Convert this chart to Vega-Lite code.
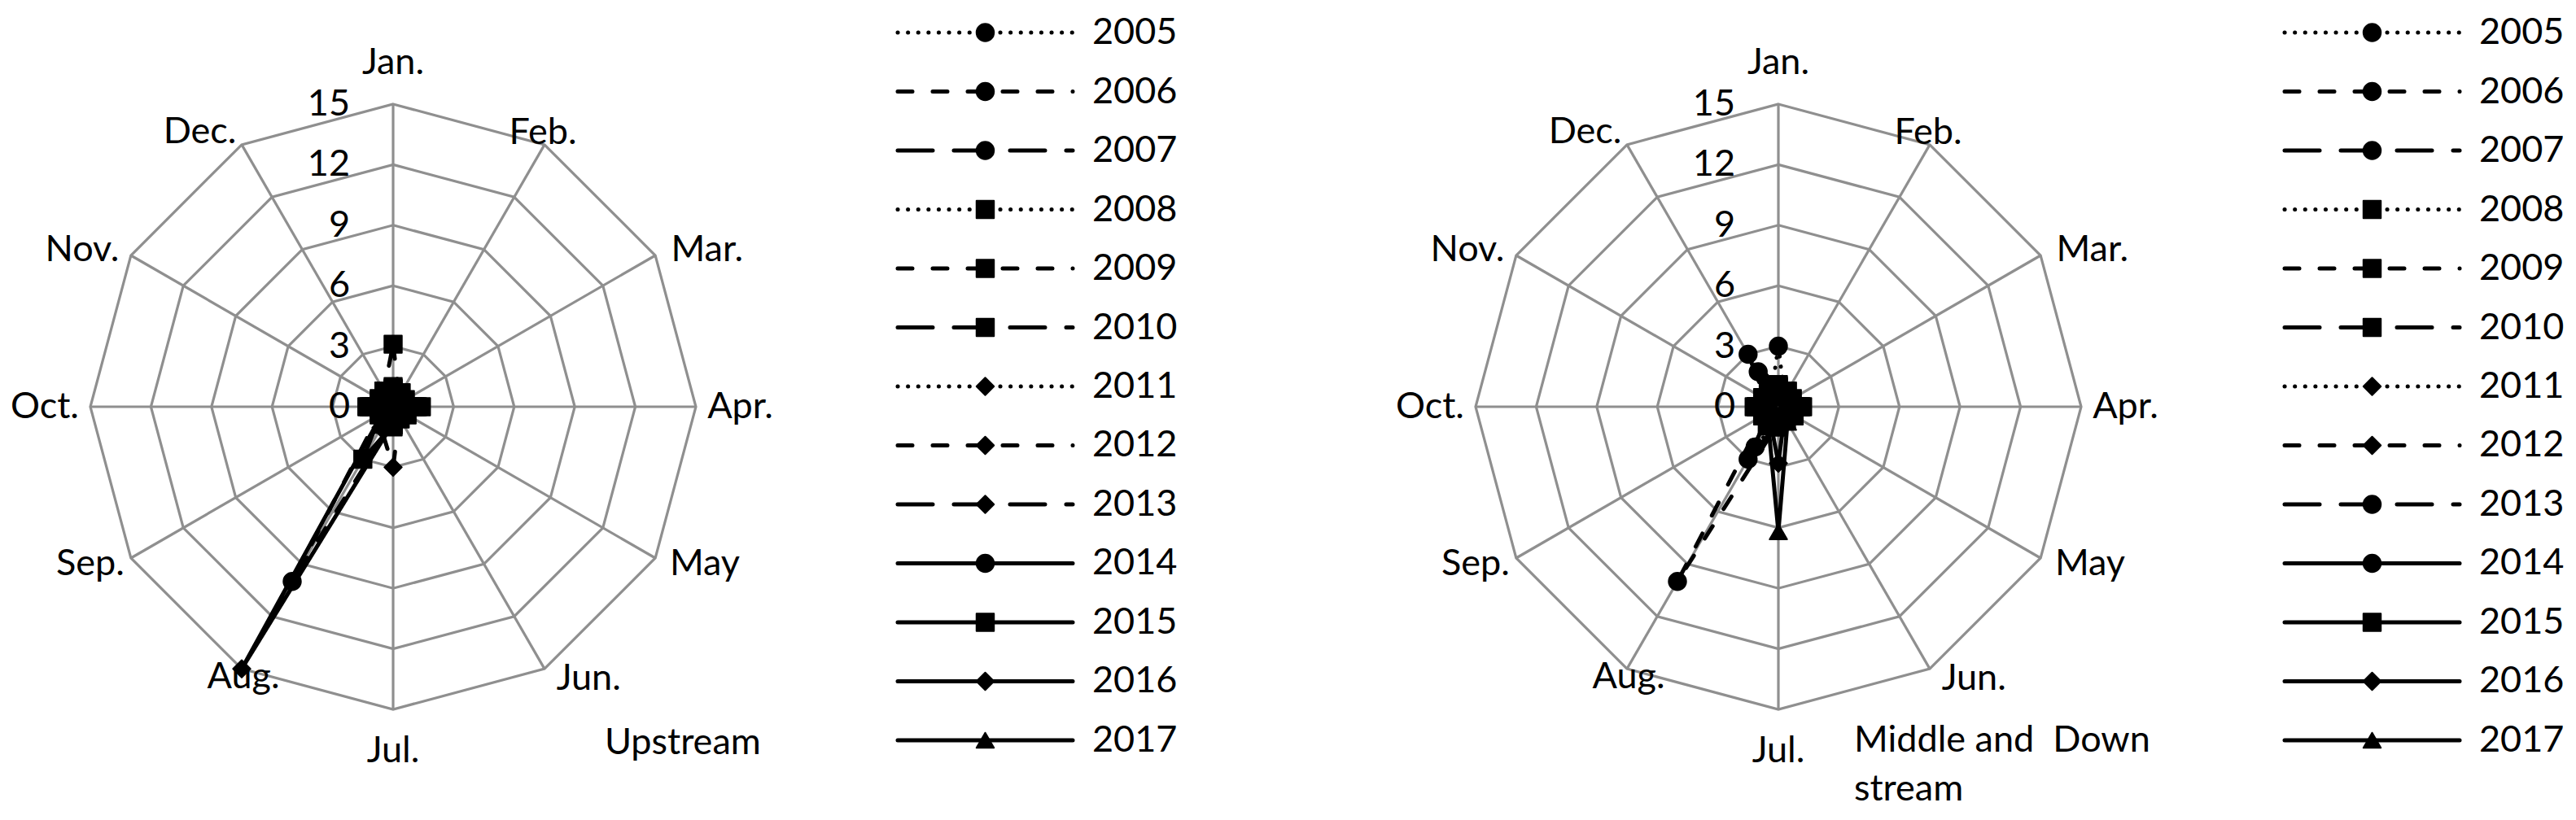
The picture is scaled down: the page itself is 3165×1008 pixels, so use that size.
{
"$schema":"https://vega.github.io/schema/vega-lite/v6.json",
"padding":0,
"spacing":0,
"bounds":"flush",
"background":"white",
"config":{"view":{"stroke":null},"font":"Lato","text":{"font":"Lato","fontSize":45,"color":"black"}},
"resolve":{"scale":{"x":"independent","y":"independent","shape":"independent","strokeDash":"independent"}},
"datasets":{
"U":[
{"yr":2005,"m":0,"v":0.6},{"yr":2005,"m":1,"v":0.5},{"yr":2005,"m":2,"v":0.4},{"yr":2005,"m":3,"v":0.8},{"yr":2005,"m":4,"v":0.5},{"yr":2005,"m":5,"v":0.4},{"yr":2005,"m":6,"v":0.6},{"yr":2005,"m":7,"v":0.9},{"yr":2005,"m":8,"v":0.5},{"yr":2005,"m":9,"v":0.7},{"yr":2005,"m":10,"v":0.4},{"yr":2005,"m":11,"v":0.6},
{"yr":2006,"m":0,"v":0.8},{"yr":2006,"m":1,"v":0.6},{"yr":2006,"m":2,"v":0.5},{"yr":2006,"m":3,"v":0.9},{"yr":2006,"m":4,"v":0.6},{"yr":2006,"m":5,"v":0.5},{"yr":2006,"m":6,"v":0.7},{"yr":2006,"m":7,"v":10},{"yr":2006,"m":8,"v":0.8},{"yr":2006,"m":9,"v":0.9},{"yr":2006,"m":10,"v":0.6},{"yr":2006,"m":11,"v":0.7},
{"yr":2007,"m":0,"v":0.5},{"yr":2007,"m":1,"v":0.4},{"yr":2007,"m":2,"v":0.6},{"yr":2007,"m":3,"v":0.7},{"yr":2007,"m":4,"v":0.5},{"yr":2007,"m":5,"v":0.6},{"yr":2007,"m":6,"v":0.8},{"yr":2007,"m":7,"v":0.6},{"yr":2007,"m":8,"v":0.5},{"yr":2007,"m":9,"v":0.8},{"yr":2007,"m":10,"v":0.5},{"yr":2007,"m":11,"v":0.4},
{"yr":2008,"m":0,"v":1.0},{"yr":2008,"m":1,"v":0.7},{"yr":2008,"m":2,"v":0.6},{"yr":2008,"m":3,"v":1.2},{"yr":2008,"m":4,"v":0.7},{"yr":2008,"m":5,"v":0.6},{"yr":2008,"m":6,"v":0.8},{"yr":2008,"m":7,"v":0.9},{"yr":2008,"m":8,"v":0.7},{"yr":2008,"m":9,"v":1.2},{"yr":2008,"m":10,"v":0.7},{"yr":2008,"m":11,"v":0.8},
{"yr":2009,"m":0,"v":3.1},{"yr":2009,"m":1,"v":0.6},{"yr":2009,"m":2,"v":0.5},{"yr":2009,"m":3,"v":1.0},{"yr":2009,"m":4,"v":0.6},{"yr":2009,"m":5,"v":0.5},{"yr":2009,"m":6,"v":0.9},{"yr":2009,"m":7,"v":0.8},{"yr":2009,"m":8,"v":0.6},{"yr":2009,"m":9,"v":1.0},{"yr":2009,"m":10,"v":0.6},{"yr":2009,"m":11,"v":0.9},
{"yr":2010,"m":0,"v":0.9},{"yr":2010,"m":1,"v":0.8},{"yr":2010,"m":2,"v":0.7},{"yr":2010,"m":3,"v":1.4},{"yr":2010,"m":4,"v":0.8},{"yr":2010,"m":5,"v":0.7},{"yr":2010,"m":6,"v":1.0},{"yr":2010,"m":7,"v":1.0},{"yr":2010,"m":8,"v":0.8},{"yr":2010,"m":9,"v":1.3},{"yr":2010,"m":10,"v":0.8},{"yr":2010,"m":11,"v":0.9},
{"yr":2011,"m":0,"v":0.7},{"yr":2011,"m":1,"v":0.5},{"yr":2011,"m":2,"v":0.4},{"yr":2011,"m":3,"v":0.9},{"yr":2011,"m":4,"v":0.5},{"yr":2011,"m":5,"v":0.4},{"yr":2011,"m":6,"v":0.7},{"yr":2011,"m":7,"v":0.8},{"yr":2011,"m":8,"v":0.5},{"yr":2011,"m":9,"v":0.9},{"yr":2011,"m":10,"v":0.5},{"yr":2011,"m":11,"v":0.6},
{"yr":2012,"m":0,"v":0.6},{"yr":2012,"m":1,"v":0.5},{"yr":2012,"m":2,"v":0.5},{"yr":2012,"m":3,"v":0.8},{"yr":2012,"m":4,"v":0.5},{"yr":2012,"m":5,"v":0.6},{"yr":2012,"m":6,"v":3.0},{"yr":2012,"m":7,"v":1.2},{"yr":2012,"m":8,"v":0.6},{"yr":2012,"m":9,"v":0.8},{"yr":2012,"m":10,"v":0.5},{"yr":2012,"m":11,"v":0.6},
{"yr":2013,"m":0,"v":0.8},{"yr":2013,"m":1,"v":0.6},{"yr":2013,"m":2,"v":0.5},{"yr":2013,"m":3,"v":1.0},{"yr":2013,"m":4,"v":0.6},{"yr":2013,"m":5,"v":0.5},{"yr":2013,"m":6,"v":0.8},{"yr":2013,"m":7,"v":0.7},{"yr":2013,"m":8,"v":0.6},{"yr":2013,"m":9,"v":1.0},{"yr":2013,"m":10,"v":0.6},{"yr":2013,"m":11,"v":0.7},
{"yr":2014,"m":0,"v":0.5},{"yr":2014,"m":1,"v":0.4},{"yr":2014,"m":2,"v":0.4},{"yr":2014,"m":3,"v":0.7},{"yr":2014,"m":4,"v":0.4},{"yr":2014,"m":5,"v":0.4},{"yr":2014,"m":6,"v":0.6},{"yr":2014,"m":7,"v":0.8},{"yr":2014,"m":8,"v":0.4},{"yr":2014,"m":9,"v":0.7},{"yr":2014,"m":10,"v":0.4},{"yr":2014,"m":11,"v":0.5},
{"yr":2015,"m":0,"v":0.9},{"yr":2015,"m":1,"v":0.7},{"yr":2015,"m":2,"v":0.6},{"yr":2015,"m":3,"v":1.1},{"yr":2015,"m":4,"v":0.7},{"yr":2015,"m":5,"v":0.6},{"yr":2015,"m":6,"v":0.9},{"yr":2015,"m":7,"v":3.0},{"yr":2015,"m":8,"v":0.7},{"yr":2015,"m":9,"v":1.1},{"yr":2015,"m":10,"v":0.7},{"yr":2015,"m":11,"v":0.8},
{"yr":2016,"m":0,"v":0.7},{"yr":2016,"m":1,"v":0.5},{"yr":2016,"m":2,"v":0.5},{"yr":2016,"m":3,"v":0.9},{"yr":2016,"m":4,"v":0.5},{"yr":2016,"m":5,"v":0.5},{"yr":2016,"m":6,"v":0.8},{"yr":2016,"m":7,"v":15},{"yr":2016,"m":8,"v":0.6},{"yr":2016,"m":9,"v":0.9},{"yr":2016,"m":10,"v":0.5},{"yr":2016,"m":11,"v":0.6},
{"yr":2017,"m":0,"v":0.6},{"yr":2017,"m":1,"v":0.5},{"yr":2017,"m":2,"v":0.4},{"yr":2017,"m":3,"v":0.8},{"yr":2017,"m":4,"v":0.5},{"yr":2017,"m":5,"v":0.4},{"yr":2017,"m":6,"v":0.7},{"yr":2017,"m":7,"v":0.7},{"yr":2017,"m":8,"v":0.5},{"yr":2017,"m":9,"v":0.8},{"yr":2017,"m":10,"v":0.4},{"yr":2017,"m":11,"v":0.5}
],
"M":[
{"yr":2005,"m":0,"v":3.0},{"yr":2005,"m":1,"v":0.6},{"yr":2005,"m":2,"v":0.5},{"yr":2005,"m":3,"v":0.9},{"yr":2005,"m":4,"v":0.6},{"yr":2005,"m":5,"v":0.5},{"yr":2005,"m":6,"v":0.7},{"yr":2005,"m":7,"v":2.3},{"yr":2005,"m":8,"v":0.6},{"yr":2005,"m":9,"v":0.9},{"yr":2005,"m":10,"v":0.6},{"yr":2005,"m":11,"v":0.7},
{"yr":2006,"m":0,"v":0.8},{"yr":2006,"m":1,"v":0.7},{"yr":2006,"m":2,"v":0.6},{"yr":2006,"m":3,"v":1.0},{"yr":2006,"m":4,"v":0.7},{"yr":2006,"m":5,"v":0.6},{"yr":2006,"m":6,"v":0.8},{"yr":2006,"m":7,"v":10},{"yr":2006,"m":8,"v":0.8},{"yr":2006,"m":9,"v":1.0},{"yr":2006,"m":10,"v":0.7},{"yr":2006,"m":11,"v":0.8},
{"yr":2007,"m":0,"v":0.7},{"yr":2007,"m":1,"v":0.6},{"yr":2007,"m":2,"v":0.5},{"yr":2007,"m":3,"v":0.9},{"yr":2007,"m":4,"v":0.6},{"yr":2007,"m":5,"v":0.5},{"yr":2007,"m":6,"v":0.8},{"yr":2007,"m":7,"v":0.9},{"yr":2007,"m":8,"v":0.6},{"yr":2007,"m":9,"v":0.9},{"yr":2007,"m":10,"v":0.6},{"yr":2007,"m":11,"v":2.0},
{"yr":2008,"m":0,"v":1.0},{"yr":2008,"m":1,"v":0.8},{"yr":2008,"m":2,"v":0.7},{"yr":2008,"m":3,"v":1.1},{"yr":2008,"m":4,"v":0.8},{"yr":2008,"m":5,"v":0.7},{"yr":2008,"m":6,"v":0.9},{"yr":2008,"m":7,"v":1.0},{"yr":2008,"m":8,"v":0.8},{"yr":2008,"m":9,"v":1.1},{"yr":2008,"m":10,"v":0.8},{"yr":2008,"m":11,"v":0.9},
{"yr":2009,"m":0,"v":0.9},{"yr":2009,"m":1,"v":0.7},{"yr":2009,"m":2,"v":0.6},{"yr":2009,"m":3,"v":1.0},{"yr":2009,"m":4,"v":0.7},{"yr":2009,"m":5,"v":0.6},{"yr":2009,"m":6,"v":0.9},{"yr":2009,"m":7,"v":0.9},{"yr":2009,"m":8,"v":0.7},{"yr":2009,"m":9,"v":1.0},{"yr":2009,"m":10,"v":0.7},{"yr":2009,"m":11,"v":0.8},
{"yr":2010,"m":0,"v":1.1},{"yr":2010,"m":1,"v":0.9},{"yr":2010,"m":2,"v":0.8},{"yr":2010,"m":3,"v":1.2},{"yr":2010,"m":4,"v":0.9},{"yr":2010,"m":5,"v":0.8},{"yr":2010,"m":6,"v":1.0},{"yr":2010,"m":7,"v":1.1},{"yr":2010,"m":8,"v":0.9},{"yr":2010,"m":9,"v":1.2},{"yr":2010,"m":10,"v":0.9},{"yr":2010,"m":11,"v":1.0},
{"yr":2011,"m":0,"v":0.8},{"yr":2011,"m":1,"v":0.6},{"yr":2011,"m":2,"v":0.5},{"yr":2011,"m":3,"v":0.9},{"yr":2011,"m":4,"v":0.6},{"yr":2011,"m":5,"v":0.5},{"yr":2011,"m":6,"v":0.8},{"yr":2011,"m":7,"v":0.8},{"yr":2011,"m":8,"v":0.6},{"yr":2011,"m":9,"v":0.9},{"yr":2011,"m":10,"v":0.6},{"yr":2011,"m":11,"v":0.7},
{"yr":2012,"m":0,"v":0.7},{"yr":2012,"m":1,"v":0.6},{"yr":2012,"m":2,"v":0.5},{"yr":2012,"m":3,"v":0.8},{"yr":2012,"m":4,"v":0.6},{"yr":2012,"m":5,"v":0.5},{"yr":2012,"m":6,"v":0.9},{"yr":2012,"m":7,"v":0.8},{"yr":2012,"m":8,"v":0.6},{"yr":2012,"m":9,"v":0.8},{"yr":2012,"m":10,"v":0.6},{"yr":2012,"m":11,"v":0.7},
{"yr":2013,"m":0,"v":0.9},{"yr":2013,"m":1,"v":0.7},{"yr":2013,"m":2,"v":0.6},{"yr":2013,"m":3,"v":1.0},{"yr":2013,"m":4,"v":0.7},{"yr":2013,"m":5,"v":0.6},{"yr":2013,"m":6,"v":0.8},{"yr":2013,"m":7,"v":0.9},{"yr":2013,"m":8,"v":0.7},{"yr":2013,"m":9,"v":1.0},{"yr":2013,"m":10,"v":0.7},{"yr":2013,"m":11,"v":3.0},
{"yr":2014,"m":0,"v":0.6},{"yr":2014,"m":1,"v":0.5},{"yr":2014,"m":2,"v":0.5},{"yr":2014,"m":3,"v":0.8},{"yr":2014,"m":4,"v":0.5},{"yr":2014,"m":5,"v":0.5},{"yr":2014,"m":6,"v":0.8},{"yr":2014,"m":7,"v":3.0},{"yr":2014,"m":8,"v":0.5},{"yr":2014,"m":9,"v":0.8},{"yr":2014,"m":10,"v":0.5},{"yr":2014,"m":11,"v":0.6},
{"yr":2015,"m":0,"v":1.0},{"yr":2015,"m":1,"v":0.8},{"yr":2015,"m":2,"v":0.7},{"yr":2015,"m":3,"v":1.1},{"yr":2015,"m":4,"v":0.8},{"yr":2015,"m":5,"v":0.7},{"yr":2015,"m":6,"v":1.0},{"yr":2015,"m":7,"v":1.0},{"yr":2015,"m":8,"v":0.8},{"yr":2015,"m":9,"v":1.1},{"yr":2015,"m":10,"v":0.8},{"yr":2015,"m":11,"v":0.9},
{"yr":2016,"m":0,"v":0.7},{"yr":2016,"m":1,"v":0.6},{"yr":2016,"m":2,"v":0.5},{"yr":2016,"m":3,"v":0.9},{"yr":2016,"m":4,"v":0.6},{"yr":2016,"m":5,"v":0.6},{"yr":2016,"m":6,"v":2.8},{"yr":2016,"m":7,"v":0.8},{"yr":2016,"m":8,"v":0.6},{"yr":2016,"m":9,"v":0.9},{"yr":2016,"m":10,"v":0.6},{"yr":2016,"m":11,"v":0.7},
{"yr":2017,"m":0,"v":0.6},{"yr":2017,"m":1,"v":0.5},{"yr":2017,"m":2,"v":0.5},{"yr":2017,"m":3,"v":0.8},{"yr":2017,"m":4,"v":0.5},{"yr":2017,"m":5,"v":0.9},{"yr":2017,"m":6,"v":6.2},{"yr":2017,"m":7,"v":1.0},{"yr":2017,"m":8,"v":0.5},{"yr":2017,"m":9,"v":0.8},{"yr":2017,"m":10,"v":0.5},{"yr":2017,"m":11,"v":0.6}
],
"months":[{"m":0,"name":"Jan."},{"m":1,"name":"Feb."},{"m":2,"name":"Mar."},{"m":3,"name":"Apr."},{"m":4,"name":"May"},{"m":5,"name":"Jun."},{"m":6,"name":"Jul."},{"m":7,"name":"Aug."},{"m":8,"name":"Sep."},{"m":9,"name":"Oct."},{"m":10,"name":"Nov."},{"m":11,"name":"Dec."}],
"grid":[{"r":3,"m":[0,1,2,3,4,5,6,7,8,9,10,11]},{"r":6,"m":[0,1,2,3,4,5,6,7,8,9,10,11]},{"r":9,"m":[0,1,2,3,4,5,6,7,8,9,10,11]},{"r":12,"m":[0,1,2,3,4,5,6,7,8,9,10,11]},{"r":15,"m":[0,1,2,3,4,5,6,7,8,9,10,11]}],
"ticks":[{"r":0},{"r":3},{"r":6},{"r":9},{"r":12},{"r":15}],
"years":[{"yr":2005},{"yr":2006},{"yr":2007},{"yr":2008},{"yr":2009},{"yr":2010},{"yr":2011},{"yr":2012},{"yr":2013},{"yr":2014},{"yr":2015},{"yr":2016},{"yr":2017}],
"titleU":[{"t":"Upstream"}],
"titleM":[{"t":"Middle and \u00a0Down\nstream"}]
},
"hconcat":[
{
"width":1000,"height":1008,
"encoding":{
"x":{"field":"px","type":"quantitative","scale":{"domain":[-19.4758,20.8468],"nice":false,"zero":false},"axis":null},
"y":{"field":"py","type":"quantitative","scale":{"domain":[-20.4839,20.1613],"nice":false,"zero":false},"axis":null}
},
"layer":[
{"data":{"name":"grid"},"transform":[{"flatten":["m"]},{"calculate":"datum.r*sin(datum.m*PI/6)","as":"px"},{"calculate":"datum.r*cos(datum.m*PI/6)","as":"py"}],
 "mark":{"type":"line","interpolate":"linear-closed","stroke":"#8f8f8f","strokeWidth":3.2},
 "encoding":{"detail":{"field":"r"},"order":{"field":"m"}}},
{"data":{"name":"months"},"transform":[{"calculate":"15*sin(datum.m*PI/6)","as":"px"},{"calculate":"15*cos(datum.m*PI/6)","as":"py"}],
 "mark":{"type":"rule","stroke":"#8f8f8f","strokeWidth":3.2},
 "encoding":{"x2":{"datum":0},"y2":{"datum":0}}},
{"data":{"name":"U"},"transform":[{"calculate":"datum.v*sin(datum.m*PI/6)","as":"px"},{"calculate":"datum.v*cos(datum.m*PI/6)","as":"py"}],
 "mark":{"type":"line","interpolate":"linear-closed","stroke":"black","strokeWidth":5,"strokeCap":"round","strokeJoin":"round"},
 "encoding":{"order":{"field":"m"},"detail":{"field":"yr"},
  "strokeDash":{"field":"yr","type":"nominal","legend":null,"scale":{"domain":[2005,2006,2007,2008,2009,2010,2011,2012,2013,2014,2015,2016,2017],"range":[[0.1,12.5],[18,25],[43,26],[0.1,12.5],[18,25],[43,26],[0.1,12.5],[18,25],[43,26],[1,0],[1,0],[1,0],[1,0]]}}}},
{"data":{"name":"U"},"transform":[{"calculate":"datum.v*sin(datum.m*PI/6)","as":"px"},{"calculate":"datum.v*cos(datum.m*PI/6)","as":"py"}],
 "mark":{"type":"point","filled":true,"color":"black","size":460,"stroke":"black","strokeWidth":2,"strokeJoin":"round","opacity":1},
 "encoding":{"shape":{"field":"yr","type":"nominal","legend":null,"scale":{"domain":[2005,2006,2007,2008,2009,2010,2011,2012,2013,2014,2015,2016,2017],"range":["circle","circle","circle","square","square","square","diamond","diamond","diamond","circle","square","diamond","triangle-up"]}}}},
{"data":{"name":"ticks"},"transform":[{"calculate":"0","as":"px"},{"calculate":"datum.r","as":"py"}],
 "mark":{"type":"text","align":"right","baseline":"middle","dx":-53},
 "encoding":{"text":{"field":"r"}}},
{"data":{"name":"months"},"transform":[{"calculate":"[0,28.6,63.4,90,116.8,144.3,180,209,242.6,270,296.8,324.9][datum.m]*PI/180","as":"la"},{"calculate":"[17.06,15.5,17.4,17.2,17.3,16.6,17.06,15.3,16.9,17.26,17.26,16.65][datum.m]","as":"lr"},{"calculate":"datum.lr*sin(datum.la)","as":"px"},{"calculate":"datum.lr*cos(datum.la)","as":"py"}],
 "mark":{"type":"text","align":"center","baseline":"middle"},
 "encoding":{"text":{"field":"name"}}},
{"data":{"name":"titleU"},"transform":[{"calculate":"10.48","as":"px"},{"calculate":"-16.65","as":"py"}],
 "mark":{"type":"text","align":"left","baseline":"middle"},
 "encoding":{"text":{"field":"t"}}}
]
},
{
"width":550,"height":1008,
"data":{"name":"years"},
"encoding":{
"y":{"field":"yr","type":"quantitative","scale":{"domain":[2004.448,2018.352],"reverse":true,"nice":false,"zero":false},"axis":null}
},
"layer":[
{"mark":{"type":"rule","stroke":"black","strokeWidth":5,"strokeCap":"round"},
 "encoding":{"x":{"datum":0,"type":"quantitative","scale":{"domain":[-0.479,2.079],"nice":false,"zero":false},"axis":null},"x2":{"datum":1},
  "strokeDash":{"field":"yr","type":"nominal","legend":null,"scale":{"domain":[2005,2006,2007,2008,2009,2010,2011,2012,2013,2014,2015,2016,2017],"range":[[0.1,12.5],[18,25],[43,26],[0.1,12.5],[18,25],[43,26],[0.1,12.5],[18,25],[43,26],[1,0],[1,0],[1,0],[1,0]]}}}},
{"mark":{"type":"point","filled":true,"color":"black","size":460,"stroke":"black","strokeWidth":2,"strokeJoin":"round","opacity":1},
 "encoding":{"x":{"datum":0.5,"type":"quantitative"},
  "shape":{"field":"yr","type":"nominal","legend":null,"scale":{"domain":[2005,2006,2007,2008,2009,2010,2011,2012,2013,2014,2015,2016,2017],"range":["circle","circle","circle","square","square","square","diamond","diamond","diamond","circle","square","diamond","triangle-up"]}}}},
{"mark":{"type":"text","align":"left","baseline":"middle","dx":24},
 "encoding":{"x":{"datum":1,"type":"quantitative"},"text":{"field":"yr"}}}
]
},
{
"width":1150,"height":1008,
"encoding":{
"x":{"field":"px","type":"quantitative","scale":{"domain":[-25.6048,20.7661],"nice":false,"zero":false},"axis":null},
"y":{"field":"py","type":"quantitative","scale":{"domain":[-20.4839,20.1613],"nice":false,"zero":false},"axis":null}
},
"layer":[
{"data":{"name":"grid"},"transform":[{"flatten":["m"]},{"calculate":"datum.r*sin(datum.m*PI/6)","as":"px"},{"calculate":"datum.r*cos(datum.m*PI/6)","as":"py"}],
 "mark":{"type":"line","interpolate":"linear-closed","stroke":"#8f8f8f","strokeWidth":3.2},
 "encoding":{"detail":{"field":"r"},"order":{"field":"m"}}},
{"data":{"name":"months"},"transform":[{"calculate":"15*sin(datum.m*PI/6)","as":"px"},{"calculate":"15*cos(datum.m*PI/6)","as":"py"}],
 "mark":{"type":"rule","stroke":"#8f8f8f","strokeWidth":3.2},
 "encoding":{"x2":{"datum":0},"y2":{"datum":0}}},
{"data":{"name":"M"},"transform":[{"calculate":"datum.v*sin(datum.m*PI/6)","as":"px"},{"calculate":"datum.v*cos(datum.m*PI/6)","as":"py"}],
 "mark":{"type":"line","interpolate":"linear-closed","stroke":"black","strokeWidth":5,"strokeCap":"round","strokeJoin":"round"},
 "encoding":{"order":{"field":"m"},"detail":{"field":"yr"},
  "strokeDash":{"field":"yr","type":"nominal","legend":null,"scale":{"domain":[2005,2006,2007,2008,2009,2010,2011,2012,2013,2014,2015,2016,2017],"range":[[0.1,12.5],[18,25],[43,26],[0.1,12.5],[18,25],[43,26],[0.1,12.5],[18,25],[43,26],[1,0],[1,0],[1,0],[1,0]]}}}},
{"data":{"name":"M"},"transform":[{"calculate":"datum.v*sin(datum.m*PI/6)","as":"px"},{"calculate":"datum.v*cos(datum.m*PI/6)","as":"py"}],
 "mark":{"type":"point","filled":true,"color":"black","size":460,"stroke":"black","strokeWidth":2,"strokeJoin":"round","opacity":1},
 "encoding":{"shape":{"field":"yr","type":"nominal","legend":null,"scale":{"domain":[2005,2006,2007,2008,2009,2010,2011,2012,2013,2014,2015,2016,2017],"range":["circle","circle","circle","square","square","square","diamond","diamond","circle","circle","square","diamond","triangle-up"]}}}},
{"data":{"name":"ticks"},"transform":[{"calculate":"0","as":"px"},{"calculate":"datum.r","as":"py"}],
 "mark":{"type":"text","align":"right","baseline":"middle","dx":-53},
 "encoding":{"text":{"field":"r"}}},
{"data":{"name":"months"},"transform":[{"calculate":"[0,28.6,63.4,90,116.8,144.3,180,209,242.6,270,296.8,324.9][datum.m]*PI/180","as":"la"},{"calculate":"[17.06,15.5,17.4,17.2,17.3,16.6,17.06,15.3,16.9,17.26,17.26,16.65][datum.m]","as":"lr"},{"calculate":"datum.lr*sin(datum.la)","as":"px"},{"calculate":"datum.lr*cos(datum.la)","as":"py"}],
 "mark":{"type":"text","align":"center","baseline":"middle"},
 "encoding":{"text":{"field":"name"}}},
{"data":{"name":"titleM"},"transform":[{"calculate":"3.75","as":"px"},{"calculate":"-16.53","as":"py"}],
 "mark":{"type":"text","align":"left","baseline":"middle","lineBreak":"\n","lineHeight":60},
 "encoding":{"text":{"field":"t"}}}
]
},
{
"width":465,"height":1008,
"data":{"name":"years"},
"encoding":{
"y":{"field":"yr","type":"quantitative","scale":{"domain":[2004.448,2018.352],"reverse":true,"nice":false,"zero":false},"axis":null}
},
"layer":[
{"mark":{"type":"rule","stroke":"black","strokeWidth":5,"strokeCap":"round"},
 "encoding":{"x":{"datum":0,"type":"quantitative","scale":{"domain":[-0.4977,1.665],"nice":false,"zero":false},"axis":null},"x2":{"datum":1},
  "strokeDash":{"field":"yr","type":"nominal","legend":null,"scale":{"domain":[2005,2006,2007,2008,2009,2010,2011,2012,2013,2014,2015,2016,2017],"range":[[0.1,12.5],[18,25],[43,26],[0.1,12.5],[18,25],[43,26],[0.1,12.5],[18,25],[43,26],[1,0],[1,0],[1,0],[1,0]]}}}},
{"mark":{"type":"point","filled":true,"color":"black","size":460,"stroke":"black","strokeWidth":2,"strokeJoin":"round","opacity":1},
 "encoding":{"x":{"datum":0.5,"type":"quantitative"},
  "shape":{"field":"yr","type":"nominal","legend":null,"scale":{"domain":[2005,2006,2007,2008,2009,2010,2011,2012,2013,2014,2015,2016,2017],"range":["circle","circle","circle","square","square","square","diamond","diamond","circle","circle","square","diamond","triangle-up"]}}}},
{"mark":{"type":"text","align":"left","baseline":"middle","dx":24},
 "encoding":{"x":{"datum":1,"type":"quantitative"},"text":{"field":"yr"}}}
]
}
]
}
